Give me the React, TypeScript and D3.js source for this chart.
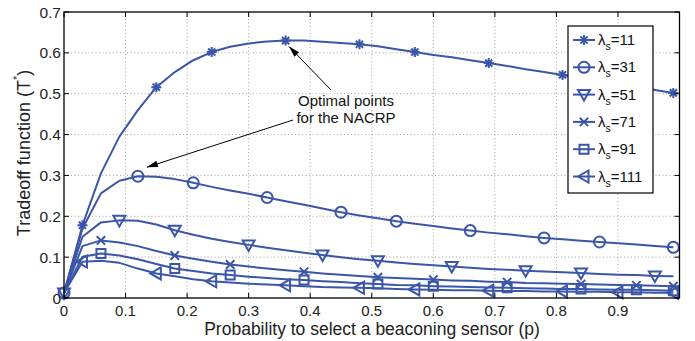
import React from 'react';
import * as d3 from 'd3';

// p grid (x values of the plotted points)
const P = [0, 0.03, 0.06, 0.09, 0.12, 0.15, 0.18, 0.21, 0.24, 0.27, 0.3, 0.33, 0.36, 0.39, 0.42, 0.45, 0.48,
  0.51, 0.54, 0.57, 0.6, 0.63, 0.66, 0.69, 0.72, 0.75, 0.78, 0.81, 0.84, 0.87, 0.9, 0.93, 0.96, 0.99];

const LAMBDAS = [11, 31, 51, 71, 91, 111];

const S11 = [0.012, 0.178, 0.305, 0.395, 0.46, 0.516, 0.553, 0.582, 0.602, 0.615, 0.623, 0.628, 0.63, 0.63, 0.627,
  0.624, 0.621, 0.616, 0.609, 0.602, 0.595, 0.589, 0.582, 0.575, 0.568, 0.56, 0.553, 0.546, 0.539, 0.531, 0.524,
  0.517, 0.509, 0.502];
const S31 = [0.012, 0.17, 0.256, 0.287, 0.298, 0.297, 0.291, 0.282, 0.272, 0.263, 0.255, 0.246, 0.237, 0.228, 0.219,
  0.21, 0.202, 0.195, 0.188, 0.182, 0.176, 0.17, 0.165, 0.16, 0.156, 0.151, 0.147, 0.144, 0.14, 0.137, 0.134, 0.131,
  0.127, 0.124];
const S51 = [0.012, 0.15, 0.185, 0.19, 0.189, 0.18, 0.166, 0.155, 0.145, 0.137, 0.13, 0.123, 0.117, 0.111, 0.105, 0.1,
  0.095, 0.091, 0.087, 0.083, 0.08, 0.077, 0.074, 0.071, 0.069, 0.067, 0.065, 0.063, 0.061, 0.059, 0.057, 0.056,
  0.054, 0.053];
const S71 = [0.012, 0.127, 0.141, 0.136, 0.127, 0.115, 0.104, 0.096, 0.089, 0.082, 0.077, 0.072, 0.068, 0.064, 0.06,
  0.057, 0.054, 0.051, 0.049, 0.047, 0.045, 0.043, 0.042, 0.04, 0.039, 0.037, 0.036, 0.035, 0.034, 0.033, 0.032,
  0.031, 0.03, 0.029];
const S91 = [0.012, 0.101, 0.109, 0.104, 0.095, 0.083, 0.072, 0.066, 0.06, 0.056, 0.052, 0.049, 0.046, 0.044, 0.041,
  0.039, 0.036, 0.034, 0.032, 0.031, 0.029, 0.028, 0.027, 0.026, 0.025, 0.024, 0.023, 0.022, 0.022, 0.021, 0.02,
  0.02, 0.019, 0.018];
const S111 = [0.012, 0.089, 0.091, 0.086, 0.072, 0.06, 0.053, 0.046, 0.041, 0.038, 0.035, 0.033, 0.031, 0.029, 0.027,
  0.026, 0.025, 0.024, 0.022, 0.021, 0.02, 0.019, 0.019, 0.018, 0.017, 0.017, 0.016, 0.016, 0.015, 0.015, 0.014,
  0.014, 0.013, 0.013];

// indexes into P where markers are drawn
const M11 = [1, 5, 8, 12, 16, 19, 23, 27, 30, 33];
const M31 = [0, 4, 7, 11, 15, 18, 22, 26, 29, 33];
const M51 = [0, 3, 6, 10, 14, 17, 21, 25, 28, 32];
const M71 = [2, 6, 9, 13, 17, 20, 24, 28, 31, 33];
const M91 = [2, 6, 9, 13, 17, 20, 24, 28, 31, 33];
const M111 = [1, 5, 8, 12, 16, 19, 23, 27, 30, 33];

const SERIES = [S11, S31, S51, S71, S91, S111];
const MARKS = [M11, M31, M51, M71, M91, M111];
const SHAPES = ['star', 'circle', 'tridown', 'x', 'square', 'trileft'];

const X_TICKS = [0, 0.1, 0.2, 0.3, 0.4, 0.5, 0.6, 0.7, 0.8, 0.9, 1];
const X_LABELS = ['0', '0.1', '0.2', '0.3', '0.4', '0.5', '0.6', '0.7', '0.8', '0.9', ''];
const Y_TICKS = [0, 0.1, 0.2, 0.3, 0.4, 0.5, 0.6, 0.7];
const Y_LABELS = ['0', '0.1', '0.2', '0.3', '0.4', '0.5', '0.6', '0.7'];

const BLUE = '#3b56a8';
const FONT = '"Liberation Sans", Arial, Helvetica, sans-serif';

function markerPath(shape: string, cx: number, cy: number): string {
  switch (shape) {
    case 'star': {
      const r = 5, d = 3.6;
      return `M${cx - r},${cy}L${cx + r},${cy}M${cx},${cy - r}L${cx},${cy + r}` +
        `M${cx - d},${cy - d}L${cx + d},${cy + d}M${cx - d},${cy + d}L${cx + d},${cy - d}`;
    }
    case 'circle': {
      const r = 5.5;
      return `M${cx + r},${cy}A${r},${r} 0 1,1 ${cx - r},${cy}A${r},${r} 0 1,1 ${cx + r},${cy}Z`;
    }
    case 'tridown':
      return `M${cx - 6},${cy - 4.5}L${cx + 6},${cy - 4.5}L${cx},${cy + 6}Z`;
    case 'x': {
      const d = 4.2;
      return `M${cx - d},${cy - d}L${cx + d},${cy + d}M${cx - d},${cy + d}L${cx + d},${cy - d}`;
    }
    case 'square':
      return `M${cx - 4.5},${cy - 4.5}H${cx + 4.5}V${cy + 4.5}H${cx - 4.5}Z`;
    case 'trileft':
      return `M${cx - 6},${cy}L${cx + 4.5},${cy - 6}L${cx + 4.5},${cy + 6}Z`;
  }
  return '';
}

export default function App() {
  const W = 695, H = 341;
  const L = 64, R = 679.5, T = 12, B = 298;
  const x = d3.scaleLinear().domain([0, 1]).range([L, R]);
  const y = d3.scaleLinear().domain([0, 0.7]).range([B, T]);
  const line = d3.line<number>().x((_, i) => x(P[i])).y(d => y(d));

  // arrow tips derived from the marked optimal points
  const tip1 = [x(P[12]) + 3.5, y(S11[12]) + 6];
  const tip2 = [x(P[4]) + 9, y(S31[4]) - 9];
  const start1 = [331, 90];
  const start2 = [293, 120];

  const arrowHead = (sx: number, sy: number, tx: number, ty: number) => {
    const ang = Math.atan2(ty - sy, tx - sx);
    const len = 11, wid = 3.2;
    const bx = tx - len * Math.cos(ang), by = ty - len * Math.sin(ang);
    const px = -Math.sin(ang) * wid, py = Math.cos(ang) * wid;
    return `M${tx},${ty}L${bx + px},${by + py}L${bx - px},${by - py}Z`;
  };

  const legendRowY = (i: number) => 40 + i * 27.3;

  return (
    <div style={{ position: 'absolute', left: 0, top: 0 }}>
      <svg width={W} height={H} style={{ display: 'block', background: '#fff' }} fontFamily={FONT}>
        {/* grid */}
        {X_TICKS.slice(1, -1).map(t => (
          <line key={'gx' + t} x1={x(t)} x2={x(t)} y1={T} y2={B} stroke="#a0a0a0" strokeWidth={1}
            strokeDasharray="1 2.5" />
        ))}
        {Y_TICKS.slice(1, -1).map(t => (
          <line key={'gy' + t} x1={L} x2={R} y1={y(t)} y2={y(t)} stroke="#a0a0a0" strokeWidth={1}
            strokeDasharray="1 2.5" />
        ))}
        {/* series */}
        {SERIES.map((s, si) => (
          <g key={'s' + si}>
            <path d={line(s) || ''} fill="none" stroke={BLUE} strokeWidth={2} strokeLinejoin="round" />
            {MARKS[si].map(mi => (
              <path key={mi} d={markerPath(SHAPES[si], x(P[mi]), y(s[mi]))} fill="none" stroke={BLUE}
                strokeWidth={2} />
            ))}
          </g>
        ))}
        {/* axes box and ticks */}
        <rect x={L} y={T} width={R - L} height={B - T} fill="none" stroke="#000" strokeWidth={1.3} />
        {X_TICKS.map(t => (
          <g key={'tx' + t}>
            <line x1={x(t)} x2={x(t)} y1={B} y2={B - 5} stroke="#000" strokeWidth={1} />
            <line x1={x(t)} x2={x(t)} y1={T} y2={T + 5} stroke="#000" strokeWidth={1} />
          </g>
        ))}
        {Y_TICKS.map(t => (
          <g key={'ty' + t}>
            <line x1={L} x2={L + 5} y1={y(t)} y2={y(t)} stroke="#000" strokeWidth={1} />
            <line x1={R} x2={R - 5} y1={y(t)} y2={y(t)} stroke="#000" strokeWidth={1} />
          </g>
        ))}
        {X_TICKS.map((t, i) => (
          <text key={'lx' + t} x={x(t)} y={315.5} textAnchor="middle" fontSize={15} fill="#222">{X_LABELS[i]}</text>
        ))}
        {Y_TICKS.map((t, i) => (
          <text key={'ly' + t} x={61} y={y(t) + 5.5} textAnchor="end" fontSize={15.5} fill="#222">{Y_LABELS[i]}</text>
        ))}
        {/* axis titles */}
        <text x={372} y={335} textAnchor="middle" fontSize={17.5} fill="#222">
          Probability to select a beaconing sensor (p)
        </text>
        <text transform="translate(30,153) rotate(-90)" textAnchor="middle" fontSize={18} fill="#222">
          Tradeoff function (T<tspan dy={-9} fontSize={11}>*</tspan><tspan dy={9}>)</tspan>
        </text>
        {/* annotation */}
        <line x1={start1[0]} y1={start1[1]} x2={tip1[0]} y2={tip1[1]} stroke="#000" strokeWidth={1} />
        <path d={arrowHead(start1[0], start1[1], tip1[0], tip1[1])} fill="#000" />
        <line x1={start2[0]} y1={start2[1]} x2={tip2[0]} y2={tip2[1]} stroke="#000" strokeWidth={1} />
        <path d={arrowHead(start2[0], start2[1], tip2[0], tip2[1])} fill="#000" />
        <text x={346} y={106} textAnchor="middle" fontSize={15} fill="#111">Optimal points</text>
        <text x={346} y={122.5} textAnchor="middle" fontSize={15} fill="#111">for the NACRP</text>
        {/* legend */}
        <rect x={568} y={26} width={85} height={167} fill="#fff" stroke="#000" strokeWidth={1.2} />
        {LAMBDAS.map((lam, i) => {
          const cy = legendRowY(i);
          return (
            <g key={'lg' + lam}>
              <line x1={573} x2={595} y1={cy} y2={cy} stroke={BLUE} strokeWidth={2} />
              <path d={markerPath(SHAPES[i], 584, cy)} fill="none" stroke={BLUE} strokeWidth={2} />
              <text x={598} y={cy + 5} fontSize={15} fill="#111">
                λ<tspan dy={5} fontSize={10.5}>s</tspan><tspan dy={-5}>={lam}</tspan>
              </text>
            </g>
          );
        })}
      </svg>
    </div>
  );
}
